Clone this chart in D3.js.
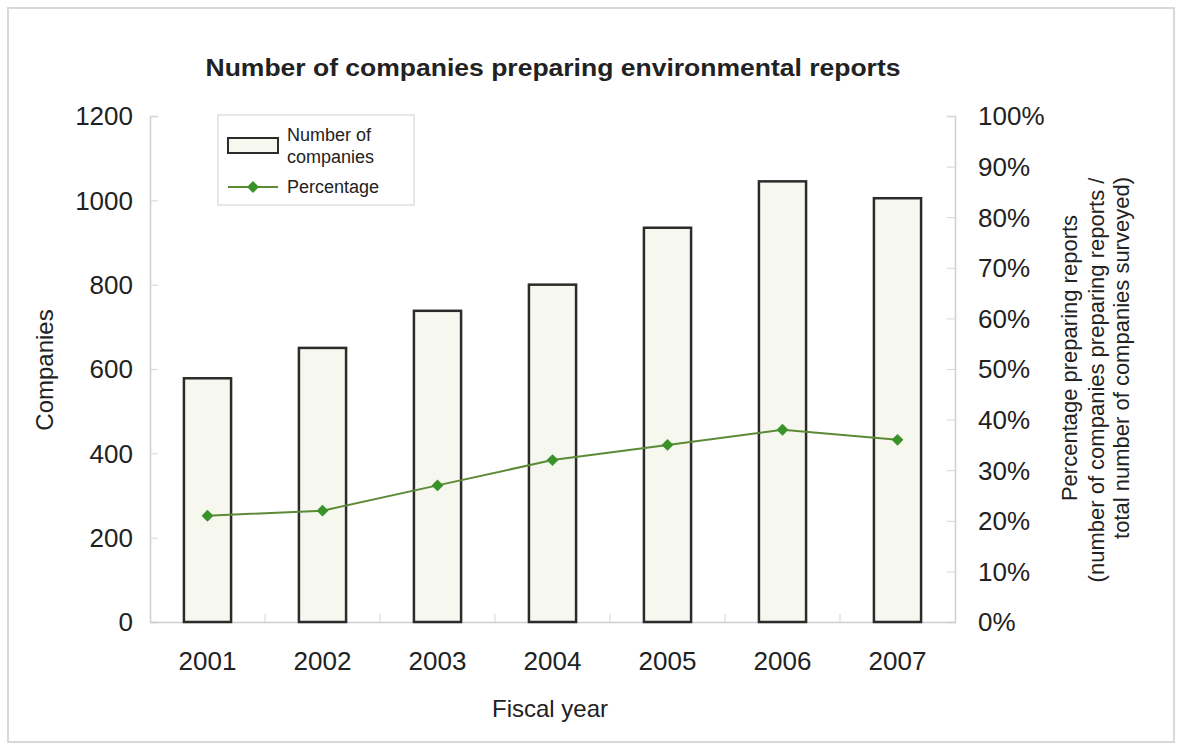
<!DOCTYPE html>
<html><head><meta charset="utf-8">
<script src="https://cdn.jsdelivr.net/npm/d3@7"></script>
<style>body{margin:0;background:#fff}svg{display:block}text{font-family:"Liberation Sans",Arial,sans-serif;fill:#222}</style>
</head><body>
<script>
const years = ["2001","2002","2003","2004","2005","2006","2007"];
const companies = [578, 650, 738, 800, 935, 1045, 1005];
const percentage = [0.21, 0.22, 0.27, 0.32, 0.35, 0.38, 0.36];
const leftTicks = [0,200,400,600,800,1000,1200];
const rightTicks = [0,0.1,0.2,0.3,0.4,0.5,0.6,0.7,0.8,0.9,1.0];
const title = "Number of companies preparing environmental reports";
const rightTitle = ["Percentage preparing reports","(number of companies preparing reports /","total number of companies surveyed)"];

const W=1179,H=749;
const svg=d3.select("body").append("svg").attr("width",W).attr("height",H);
svg.append("rect").attr("x",8).attr("y",8).attr("width",1166).attr("height",734).attr("fill","#fff").attr("stroke","#d8d8d8").attr("stroke-width",2);

const L=150,R=955,T=116,B=622;
const x=d3.scaleBand().domain(years).range([L,R]).paddingInner(0.59).paddingOuter(0.295);
const y=d3.scaleLinear().domain([0,1200]).range([B,T]);
const y2=d3.scaleLinear().domain([0,1]).range([B,T]);

// axes
const gl=svg.append("g").attr("transform",`translate(${L},0)`).call(d3.axisRight(y).tickValues(leftTicks).tickSize(8).tickFormat(""));
gl.select(".domain").attr("stroke","#cfcfcf").attr("stroke-width",1.5);
gl.selectAll(".tick line").attr("stroke","#d5d5d5");
svg.append("g").selectAll("text").data(leftTicks).join("text")
  .attr("x",133).attr("y",d=>y(d)).attr("dy","0.36em").attr("text-anchor","end")
  .style("font-size","26px").text(d=>d);

const gr=svg.append("g").attr("transform",`translate(${R},0)`).call(d3.axisLeft(y2).tickValues(rightTicks).tickSize(8).tickFormat(""));
gr.select(".domain").attr("stroke","#cfcfcf").attr("stroke-width",1.5);
gr.selectAll(".tick line").attr("stroke","#d5d5d5");
svg.append("g").selectAll("text").data(rightTicks).join("text")
  .attr("x",978).attr("y",d=>y2(d)).attr("dy","0.36em").attr("text-anchor","start")
  .style("font-size","26px").text(d=>d3.format(".0%")(d));

// baseline
const gb=svg.append("g").attr("transform",`translate(0,${B})`).call(d3.axisTop(x).tickSize(0).tickFormat(""));
gb.select(".domain").attr("stroke","#cfcfcf").attr("stroke-width",1.5);
svg.append("g").selectAll("line").data(years.slice(1)).join("line")
  .attr("x1",d=>x(d)-x.step()*x.paddingInner()/2).attr("x2",d=>x(d)-x.step()*x.paddingInner()/2)
  .attr("y1",B).attr("y2",B-8).attr("stroke","#d5d5d5");

svg.append("g").selectAll("text").data(years).join("text")
  .attr("x",d=>x(d)+x.bandwidth()/2).attr("y",661).attr("dy","0.36em").attr("text-anchor","middle")
  .style("font-size","26px").text(d=>d);

// bars
svg.append("g").selectAll("rect").data(years).join("rect")
  .attr("x",d=>x(d)).attr("width",x.bandwidth())
  .attr("y",(d,i)=>y(companies[i])).attr("height",(d,i)=>B-y(companies[i]))
  .attr("fill","#f6f8ef").attr("stroke","#2b2b2b").attr("stroke-width",2.5);

// line
const pts=years.map((d,i)=>[x(d)+x.bandwidth()/2,y2(percentage[i])]);
svg.append("path").attr("d",d3.line()(pts)).attr("fill","none").attr("stroke","#5c8a35").attr("stroke-width",2);
svg.append("g").selectAll("path").data(pts).join("path")
  .attr("transform",d=>`translate(${d[0]},${d[1]})`)
  .attr("d",d3.symbol(d3.symbolDiamond2,90)).attr("fill","#3a932a");

// titles
svg.append("text").attr("x",553).attr("y",76).attr("text-anchor","middle")
  .style("font-size","23px").style("font-weight","bold")
  .attr("textLength",695).attr("lengthAdjust","spacingAndGlyphs").text(title);
svg.append("text").attr("transform","translate(53,370) rotate(-90)").attr("text-anchor","middle")
  .style("font-size","24px").text("Companies");
svg.append("text").attr("x",550).attr("y",708).attr("dy","0.36em").attr("text-anchor","middle")
  .style("font-size","24px").text("Fiscal year");
const rc=[[1077,358],[1104,380],[1129,358]];
svg.append("g").selectAll("text").data(rightTitle).join("text")
  .attr("transform",(d,i)=>`translate(${rc[i][0]},${rc[i][1]}) rotate(-90)`)
  .attr("text-anchor","middle").style("font-size","22px").text(d=>d);

// legend
const lg=svg.append("g");
lg.append("rect").attr("x",218).attr("y",115).attr("width",196).attr("height",90).attr("fill","#fff").attr("stroke","#d0d0d0");
lg.append("rect").attr("x",228).attr("y",138).attr("width",50).attr("height",15).attr("fill","#f6f8ef").attr("stroke","#2b2b2b").attr("stroke-width",2);
lg.append("text").attr("x",287).attr("y",141).style("font-size","18px").text("Number of");
lg.append("text").attr("x",287).attr("y",163).style("font-size","18px").text("companies");
lg.append("line").attr("x1",228).attr("x2",278).attr("y1",187).attr("y2",187).attr("stroke","#5c8a35").attr("stroke-width",2);
lg.append("path").attr("transform","translate(253,187)").attr("d",d3.symbol(d3.symbolDiamond2,90)).attr("fill","#3a932a");
lg.append("text").attr("x",287).attr("y",193).style("font-size","18px").text("Percentage");
</script>
</body></html>
